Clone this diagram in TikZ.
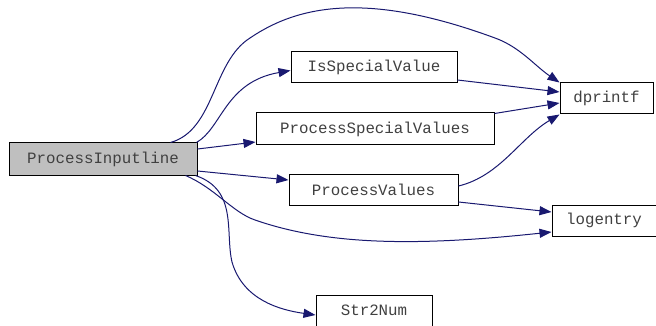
\documentclass[tikz,border=0pt]{standalone}
\usepackage{fontspec}
\setmonofont{Liberation Mono}
\usepackage{xcolor}
\usepackage{tikz}
\usetikzlibrary{positioning, arrows.meta}
\definecolor{edgeblue}{HTML}{191970}
\definecolor{rootgray}{HTML}{BFBFBF}

\begin{document}
\begin{tikzpicture}[x=1pt,y=-1pt]
						\tikzstyle{fn}=[rectangle,draw=black,line width=1pt,inner sep=0pt,font=\fontsize{15.8}{17}\selectfont\ttfamily,text=black!75,minimum height=31pt]
						\tikzstyle{call}=[draw=edgeblue,line width=1pt,-{Triangle[length=12pt,width=9pt]}]
						\useasboundingbox (0,0) rectangle (656,326);
						\node[fn,fill=rootgray,minimum width=188pt,minimum height=32pt](pi) at (103,159) {ProcessInputline};
						\node[fn,minimum width=166pt](isv) at (374,67.5) {IsSpecialValue};
						\node[fn,minimum width=238pt,minimum height=32pt](psv) at (375,129) {ProcessSpecialValues};
						\node[fn,minimum width=169pt](pv) at (373.5,189.5) {ProcessValues};
						\node[fn,minimum width=116pt](s2n) at (374,310.5) {Str2Num};
						\node[fn,minimum width=93pt](dp) at (606.5,98.5) {dprintf};
						\node[fn,minimum width=104pt](le) at (604,220.5) {logentry};
						% calls from ProcessInputline
						\draw[call]([xshift=-27pt]pi.north east) .. controls (215,130) and (212,62) .. (250,38) .. controls (300,4) and (370,-8) .. (495,38) .. controls (520,47) and (535,66) .. (dp.north west);
						\draw[call]([xshift=-1pt]pi.north east) .. controls (222,128) and (225,82) .. ([yshift=-3pt]isv.west);
						\draw[call]([yshift=10pt]pi.east) -- ([yshift=-13pt]psv.west);
						\draw[call]([yshift=-12pt]pi.east) -- ([yshift=9.5pt]pv.west);
						\draw[call]([xshift=-12pt]pi.south east) .. controls (215,188) and (232,212) .. (255,220) .. controls (330,246) and (420,246) .. ([yshift=-11.5pt]le.west);
						\draw[call]([xshift=-2pt]pi.south east) .. controls (238,190) and (225,232) .. (232,262) .. controls (243,300) and (280,310) .. ([yshift=-4.5pt]s2n.west);
						% calls from the second column
						\draw[call]([yshift=-12.5pt]isv.east) -- ([yshift=6.5pt]dp.west);
						\draw[call]([yshift=-1pt]psv.north east) -- ([yshift=-4.5pt]dp.west);
						\draw[call]([yshift=3.5pt]pv.east) .. controls (500,176) and (520,138) .. (dp.south west);
						\draw[call]([yshift=-12.5pt]pv.east) -- ([yshift=8.5pt]le.west);
					\end{tikzpicture}
\end{document}
